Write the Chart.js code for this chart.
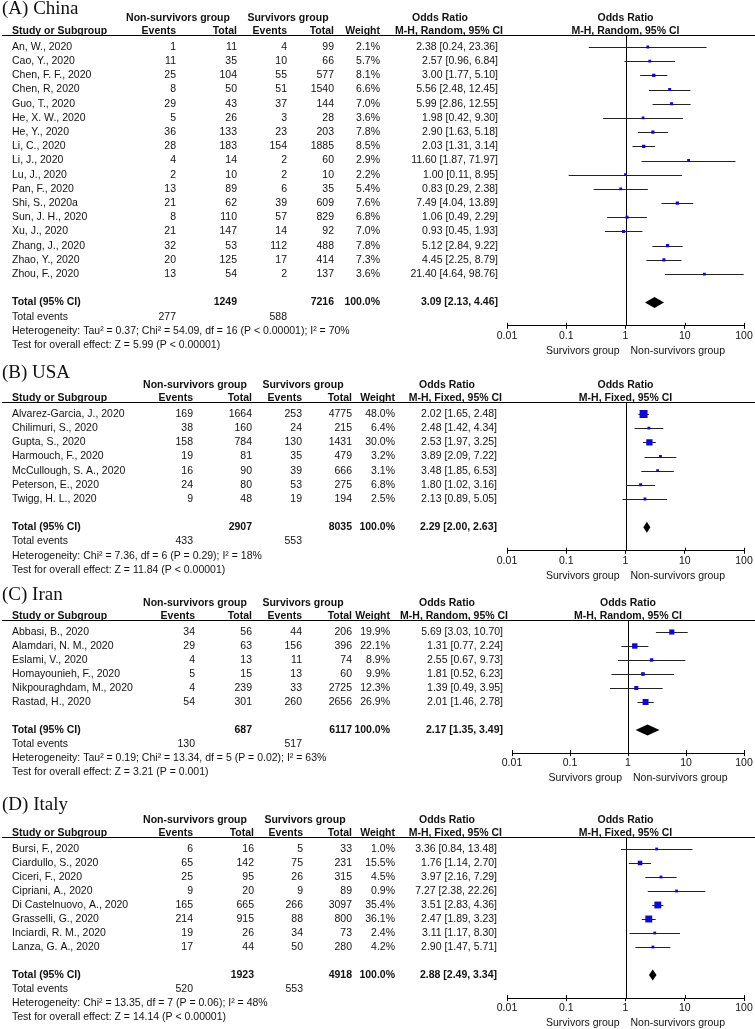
<!DOCTYPE html>
<html>
<head>
<meta charset="utf-8">
<script src="https://cdn.jsdelivr.net/npm/chart.js@4.4.1/dist/chart.umd.min.js"></script>
<style>
  body { margin: 0; background: #fff; width: 755px; height: 1029px; position: relative; overflow: hidden; }
  canvas { position: absolute; left: 0; }
</style>
</head>
<body>
<canvas id="chartA"></canvas>
<canvas id="chartB"></canvas>
<canvas id="chartC"></canvas>
<canvas id="chartD"></canvas>
<script>
// ---- data ----
const tickValues = [0.01, 0.1, 1, 10, 100];

// (A) China
const chinaStudy = ['An, W., 2020', 'Cao, Y., 2020', 'Chen, F. F., 2020', 'Chen, R, 2020', 'Guo, T., 2020', 'He, X. W., 2020', 'He, Y., 2020', 'Li, C., 2020', 'Li, J., 2020', 'Lu, J., 2020', 'Pan, F., 2020', 'Shi, S., 2020a', 'Sun, J. H., 2020', 'Xu, J., 2020', 'Zhang, J., 2020', 'Zhao, Y., 2020', 'Zhou, F., 2020'];
const chinaEventsNS = [1, 11, 25, 8, 29, 5, 36, 28, 4, 2, 13, 21, 8, 21, 32, 20, 13];
const chinaTotalNS = [11, 35, 104, 50, 43, 26, 133, 183, 14, 10, 89, 62, 110, 147, 53, 125, 54];
const chinaEventsS = [4, 10, 55, 51, 37, 3, 23, 154, 2, 2, 6, 39, 57, 14, 112, 17, 2];
const chinaTotalS = [99, 66, 577, 1540, 144, 28, 203, 1885, 60, 10, 35, 609, 829, 92, 488, 414, 137];
const chinaWeight = [2.1, 5.7, 8.1, 6.6, 7.0, 3.6, 7.8, 8.5, 2.9, 2.2, 5.4, 7.6, 6.8, 7.0, 7.8, 7.3, 3.6];
const chinaOR = [2.38, 2.57, 3.00, 5.56, 5.99, 1.98, 2.90, 2.03, 11.60, 1.00, 0.83, 7.49, 1.06, 0.93, 5.12, 4.45, 21.40];
const chinaLow = [0.24, 0.96, 1.77, 2.48, 2.86, 0.42, 1.63, 1.31, 1.87, 0.11, 0.29, 4.04, 0.49, 0.45, 2.84, 2.25, 4.64];
const chinaHigh = [23.36, 6.84, 5.10, 12.45, 12.55, 9.30, 5.18, 3.14, 71.97, 8.95, 2.38, 13.89, 2.29, 1.93, 9.22, 8.79, 98.76];
const chinaTotals = [1249, 7216];
const chinaTotalEvents = [277, 588];
const chinaPooled = [3.09, 2.13, 4.46];
const chinaStats = ['Heterogeneity: Tau\u00b2 = 0.37; Chi\u00b2 = 54.09, df = 16 (P < 0.00001); I\u00b2 = 70%', 'Test for overall effect: Z = 5.99 (P < 0.00001)'];

// (B) USA
const usaStudy = ['Alvarez-Garcia, J., 2020', 'Chilimuri, S., 2020', 'Gupta, S., 2020', 'Harmouch, F., 2020', 'McCullough, S. A., 2020', 'Peterson, E., 2020', 'Twigg, H. L., 2020'];
const usaEventsNS = [169, 38, 158, 19, 16, 24, 9];
const usaTotalNS = [1664, 160, 784, 81, 90, 80, 48];
const usaEventsS = [253, 24, 130, 35, 39, 53, 19];
const usaTotalS = [4775, 215, 1431, 479, 666, 275, 194];
const usaWeight = [48.0, 6.4, 30.0, 3.2, 3.1, 6.8, 2.5];
const usaOR = [2.02, 2.48, 2.53, 3.89, 3.48, 1.80, 2.13];
const usaLow = [1.65, 1.42, 1.97, 2.09, 1.85, 1.02, 0.89];
const usaHigh = [2.48, 4.34, 3.25, 7.22, 6.53, 3.16, 5.05];
const usaTotals = [2907, 8035];
const usaTotalEvents = [433, 553];
const usaPooled = [2.29, 2.00, 2.63];
const usaStats = ['Heterogeneity: Chi\u00b2 = 7.36, df = 6 (P = 0.29); I\u00b2 = 18%', 'Test for overall effect: Z = 11.84 (P < 0.00001)'];

// (C) Iran
const iranStudy = ['Abbasi, B., 2020', 'Alamdari, N. M., 2020', 'Eslami, V., 2020', 'Homayounieh, F., 2020', 'Nikpouraghdam, M., 2020', 'Rastad, H., 2020'];
const iranEventsNS = [34, 29, 4, 5, 4, 54];
const iranTotalNS = [56, 63, 13, 15, 239, 301];
const iranEventsS = [44, 156, 11, 13, 33, 260];
const iranTotalS = [206, 396, 74, 60, 2725, 2656];
const iranWeight = [19.9, 22.1, 8.9, 9.9, 12.3, 26.9];
const iranOR = [5.69, 1.31, 2.55, 1.81, 1.39, 2.01];
const iranLow = [3.03, 0.77, 0.67, 0.52, 0.49, 1.46];
const iranHigh = [10.70, 2.24, 9.73, 6.23, 3.95, 2.78];
const iranTotals = [687, 6117];
const iranTotalEvents = [130, 517];
const iranPooled = [2.17, 1.35, 3.49];
const iranStats = ['Heterogeneity: Tau\u00b2 = 0.19; Chi\u00b2 = 13.34, df = 5 (P = 0.02); I\u00b2 = 63%', 'Test for overall effect: Z = 3.21 (P = 0.001)'];

// (D) Italy
const italyStudy = ['Bursi, F., 2020', 'Ciardullo, S., 2020', 'Ciceri, F., 2020', 'Cipriani, A., 2020', 'Di Castelnuovo, A., 2020', 'Grasselli, G., 2020', 'Inciardi, R. M., 2020', 'Lanza, G. A., 2020'];
const italyEventsNS = [6, 65, 25, 9, 165, 214, 19, 17];
const italyTotalNS = [16, 142, 95, 20, 665, 915, 26, 44];
const italyEventsS = [5, 75, 26, 9, 266, 88, 34, 50];
const italyTotalS = [33, 231, 315, 89, 3097, 800, 73, 280];
const italyWeight = [1.0, 15.5, 4.5, 0.9, 35.4, 36.1, 2.4, 4.2];
const italyOR = [3.36, 1.76, 3.97, 7.27, 3.51, 2.47, 3.11, 2.90];
const italyLow = [0.84, 1.14, 2.16, 2.38, 2.83, 1.89, 1.17, 1.47];
const italyHigh = [13.48, 2.70, 7.29, 22.26, 4.36, 3.23, 8.30, 5.71];
const italyTotals = [1923, 4918];
const italyTotalEvents = [520, 553];
const italyPooled = [2.88, 2.49, 3.34];
const italyStats = ['Heterogeneity: Chi\u00b2 = 13.35, df = 7 (P = 0.06); I\u00b2 = 48%', 'Test for overall effect: Z = 14.14 (P < 0.00001)'];

// ---- drawing ----
const SANS = '"Liberation Sans", Arial, Helvetica, sans-serif';
const INK = '#111';

function txt(ctx, s, x, y, align, bold) {
  ctx.font = (bold ? 'bold ' : '') + '10.5px ' + SANS;
  ctx.textAlign = align;
  ctx.fillText(s, x, y);
}
function ciText(v) { return v[0].toFixed(2) + ' [' + v[1].toFixed(2) + ', ' + v[2].toFixed(2) + ']'; }

const forestPlugin = {
  id: 'forest',
  beforeDatasetsDraw(chart) {
    const p = chart.options.plugins.forest;
    const xs = chart.scales.x, ys = chart.scales.y, ctx = chart.ctx, a = chart.chartArea;
    ctx.save();
    ctx.lineWidth = 1;
    // header rule across the page
    ctx.strokeStyle = '#000';
    ctx.beginPath();
    ctx.moveTo(2, Math.round(a.top) + 0.5);
    ctx.lineTo(755, Math.round(a.top) + 0.5);
    ctx.stroke();
    // line of no effect
    const x1 = Math.round(xs.getPixelForValue(1)) + 0.5;
    ctx.beginPath();
    ctx.moveTo(x1, a.top);
    ctx.lineTo(x1, a.bottom);
    ctx.stroke();
    // small tick stubs above the axis line
    tickValues.forEach(v => {
      const x = Math.round(xs.getPixelForValue(v)) + 0.5;
      ctx.beginPath();
      ctx.moveTo(x, a.bottom - 3);
      ctx.lineTo(x, a.bottom);
      ctx.stroke();
    });
    // confidence intervals
    ctx.strokeStyle = '#222';
    p.low.forEach((lo, i) => {
      const y = Math.round(ys.getPixelForValue(i)) + 0.5;
      ctx.beginPath();
      ctx.moveTo(xs.getPixelForValue(lo), y);
      ctx.lineTo(xs.getPixelForValue(p.high[i]), y);
      ctx.stroke();
    });
    // pooled diamond
    const yt = ys.getPixelForValue(p.totalRow);
    ctx.fillStyle = '#000';
    ctx.beginPath();
    ctx.moveTo(xs.getPixelForValue(p.pooled[1]), yt);
    ctx.lineTo(xs.getPixelForValue(p.pooled[0]), yt - 5.5);
    ctx.lineTo(xs.getPixelForValue(p.pooled[2]), yt);
    ctx.lineTo(xs.getPixelForValue(p.pooled[0]), yt + 5.5);
    ctx.closePath();
    ctx.fill();
    ctx.restore();
  },
  afterDraw(chart) {
    const p = chart.options.plugins.forest;
    const c = p.cols;
    const xs = chart.scales.x, ys = chart.scales.y, ctx = chart.ctx, a = chart.chartArea;
    const x1 = xs.getPixelForValue(1);
    const row = i => ys.getPixelForValue(i);
    const y0 = row(0);
    ctx.save();
    ctx.fillStyle = INK;
    ctx.textBaseline = 'middle';

    // panel title
    ctx.font = '19px "Liberation Serif", "Times New Roman", serif';
    ctx.textAlign = 'left';
    ctx.fillText(p.title, 2, y0 + p.titleDy);

    // headers
    const h1 = y0 - 29, h2 = y0 - 15.5;
    txt(ctx, 'Non-survivors group', c.grp1, h1, 'center', true);
    txt(ctx, 'Survivors group', c.grp2, h1, 'center', true);
    txt(ctx, 'Odds Ratio', c.orHead, h1, 'center', true);
    txt(ctx, 'Odds Ratio', x1, h1, 'center', true);
    txt(ctx, 'Study or Subgroup', 12, h2, 'left', true);
    txt(ctx, 'Events', c.ev1, h2, 'right', true);
    txt(ctx, 'Total', c.tot1, h2, 'right', true);
    txt(ctx, 'Events', c.ev2, h2, 'right', true);
    txt(ctx, 'Total', c.tot2, h2, 'right', true);
    txt(ctx, 'Weight', c.wt, h2, 'right', true);
    txt(ctx, p.method, c.or + 5, h2, 'right', true);
    txt(ctx, p.method, x1, h2, 'center', true);

    // study rows
    p.study.forEach((s, i) => {
      const y = row(i);
      txt(ctx, s, 12, y, 'left');
      txt(ctx, String(p.evNS[i]), c.ev1, y, 'right');
      txt(ctx, String(p.totNS[i]), c.tot1, y, 'right');
      txt(ctx, String(p.evS[i]), c.ev2, y, 'right');
      txt(ctx, String(p.totS[i]), c.tot2, y, 'right');
      txt(ctx, p.weight[i].toFixed(1) + '%', c.wt, y, 'right');
      txt(ctx, ciText([p.or[i], p.low[i], p.high[i]]), c.or, y, 'right');
    });

    // totals
    const yt = row(p.totalRow);
    txt(ctx, 'Total (95% CI)', 12, yt, 'left', true);
    txt(ctx, String(p.totals[0]), c.tot1, yt, 'right', true);
    txt(ctx, String(p.totals[1]), c.tot2, yt, 'right', true);
    txt(ctx, '100.0%', c.wt, yt, 'right', true);
    txt(ctx, ciText(p.pooled), c.or, yt, 'right', true);
    const ye = row(p.totalRow + 1);
    txt(ctx, 'Total events', 12, ye, 'left');
    txt(ctx, String(p.totalEvents[0]), c.ev1, ye, 'right');
    txt(ctx, String(p.totalEvents[1]), c.ev2, ye, 'right');
    txt(ctx, p.stats[0], 12, row(p.totalRow + 2), 'left');
    txt(ctx, p.stats[1], 12, row(p.totalRow + 3), 'left');

    // favours labels
    const yg = a.bottom + 25;
    txt(ctx, 'Survivors group', x1 - 6, yg, 'right');
    txt(ctx, 'Non-survivors group', x1 + 5, yg, 'left');
    ctx.restore();
  }
};

function makePanel(id, d, L) {
  const canvas = document.getElementById(id);
  canvas.width = 755;
  canvas.height = L.canvasH;
  canvas.style.top = L.canvasTop + 'px';
  const totalRow = d.or.length + 1;
  const yMin = -12 / L.rowH;
  const yMax = totalRow + 1.65;
  const lineY = L.row0 - 12;
  const axisY = L.row0 + yMax * L.rowH;
  const axisH = 20;
  const sizes = d.weight.map(w => Math.max(2.8, 1.15 * Math.sqrt(w)) / 1.414);

  new Chart(canvas, {
    type: 'scatter',
    data: {
      datasets: [{
        data: d.or.map((v, i) => ({ x: v, y: i })),
        pointStyle: 'rect',
        pointRadius: sizes,
        pointHoverRadius: sizes,
        backgroundColor: '#0b0bd0',
        borderWidth: 0
      }]
    },
    options: {
      responsive: false,
      animation: false,
      events: [],
      layout: {
        padding: {
          left: L.plotL,
          right: 755 - L.plotR,
          top: lineY - L.canvasTop,
          bottom: L.canvasH - axisH - (axisY - L.canvasTop)
        }
      },
      scales: {
        x: {
          type: 'logarithmic',
          min: 0.01,
          max: 100,
          afterBuildTicks: s => { s.ticks = tickValues.map(v => ({ value: v })); },
          afterFit: s => { s.height = axisH; },
          ticks: {
            autoSkip: false,
            maxRotation: 0,
            padding: 1,
            color: INK,
            font: { family: SANS, size: 10.5 },
            callback: v => String(v)
          },
          grid: { drawOnChartArea: false, tickLength: 3, color: '#000' },
          border: { color: '#000', width: 1 }
        },
        y: { type: 'linear', display: false, reverse: true, min: yMin, max: yMax }
      },
      plugins: {
        legend: { display: false },
        tooltip: { enabled: false },
        forest: Object.assign({}, d, { totalRow: totalRow, cols: L.cols, titleDy: L.titleDy })
      }
    },
    plugins: [forestPlugin]
  });
}

makePanel('chartA', {
  title: '(A) China', method: 'M-H, Random, 95% CI',
  study: chinaStudy, evNS: chinaEventsNS, totNS: chinaTotalNS, evS: chinaEventsS, totS: chinaTotalS,
  weight: chinaWeight, or: chinaOR, low: chinaLow, high: chinaHigh,
  totals: chinaTotals, totalEvents: chinaTotalEvents, pooled: chinaPooled, stats: chinaStats
}, { canvasTop: 0, canvasH: 362, row0: 47, rowH: 14.19, titleDy: -37.5, plotL: 507, plotR: 744,
     cols: { ev1: 176, tot1: 237, ev2: 287, tot2: 334, wt: 380, or: 498, orHead: 440, grp1: 178, grp2: 288 } });

makePanel('chartB', {
  title: '(B) USA', method: 'M-H, Fixed, 95% CI',
  study: usaStudy, evNS: usaEventsNS, totNS: usaTotalNS, evS: usaEventsS, totS: usaTotalS,
  weight: usaWeight, or: usaOR, low: usaLow, high: usaHigh,
  totals: usaTotals, totalEvents: usaTotalEvents, pooled: usaPooled, stats: usaStats
}, { canvasTop: 362, canvasH: 222, row0: 414, rowH: 14.17, titleDy: -41, plotL: 507, plotR: 744,
     cols: { ev1: 193, tot1: 252, ev2: 302, tot2: 352, wt: 395, or: 497, orHead: 447, grp1: 195, grp2: 303 } });

makePanel('chartC', {
  title: '(C) Iran', method: 'M-H, Random, 95% CI',
  study: iranStudy, evNS: iranEventsNS, totNS: iranTotalNS, evS: iranEventsS, totS: iranTotalS,
  weight: iranWeight, or: iranOR, low: iranLow, high: iranHigh,
  totals: iranTotals, totalEvents: iranTotalEvents, pooled: iranPooled, stats: iranStats
}, { canvasTop: 584, canvasH: 208, row0: 632, rowH: 14.0, titleDy: -37, plotL: 512, plotR: 744,
     cols: { ev1: 195, tot1: 252, ev2: 302, tot2: 352, wt: 390, or: 503, orHead: 447, grp1: 195, grp2: 303 } });

makePanel('chartD', {
  title: '(D) Italy', method: 'M-H, Fixed, 95% CI',
  study: italyStudy, evNS: italyEventsNS, totNS: italyTotalNS, evS: italyEventsS, totS: italyTotalS,
  weight: italyWeight, or: italyOR, low: italyLow, high: italyHigh,
  totals: italyTotals, totalEvents: italyTotalEvents, pooled: italyPooled, stats: italyStats
}, { canvasTop: 792, canvasH: 237, row0: 849, rowH: 14.0, titleDy: -44, plotL: 507, plotR: 744,
     cols: { ev1: 193, tot1: 254, ev2: 303, tot2: 352, wt: 395, or: 497, orHead: 447, grp1: 195, grp2: 305 } });
</script>
</body>
</html>
